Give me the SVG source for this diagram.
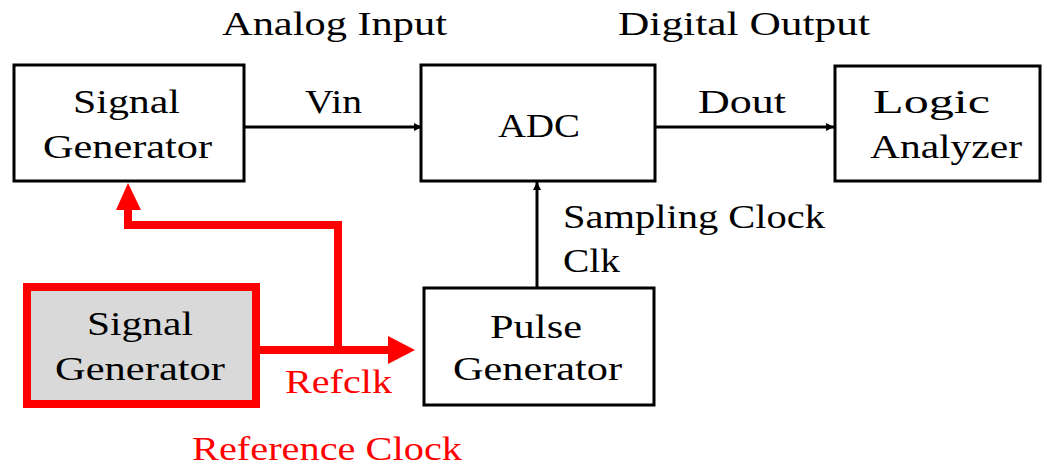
<svg xmlns="http://www.w3.org/2000/svg" width="1055" height="466" viewBox="0 0 1055 466">
<style>
text{font-family:"Liberation Serif","DejaVu Serif",serif;font-size:34px;fill:#000}
.red{fill:#ff0000}
.box{fill:#fff;stroke:#000;stroke-width:3}
.rbox{fill:#d9d9d9;stroke:#ff0000;stroke-width:8}
.blk{fill:none;stroke:#000;stroke-width:3}
.rl{fill:none;stroke:#ff0000;stroke-width:8}
</style>
<defs>
<marker id="ah" markerWidth="10" markerHeight="10" refX="8" refY="5" orient="auto" markerUnits="userSpaceOnUse">
<path d="M0,1 L8,5 L0,9 Z" fill="#000"/>
</marker>
</defs>
<rect width="1055" height="466" fill="#fff"/>
<text x="222" y="35" textLength="225" lengthAdjust="spacingAndGlyphs">Analog Input</text>
<text x="618" y="35" textLength="252" lengthAdjust="spacingAndGlyphs">Digital Output</text>
<text x="192" y="460" class="red" textLength="270" lengthAdjust="spacingAndGlyphs">Reference Clock</text>
<g id="connectors">
<line x1="245" y1="127" x2="422" y2="127" class="blk" marker-end="url(#ah)"/>
<line x1="655" y1="127" x2="834" y2="127" class="blk" marker-end="url(#ah)"/>
<line x1="537" y1="287" x2="537" y2="182" class="blk" marker-end="url(#ah)"/>
<polyline points="260,350 390,350" class="rl"/>
<path d="M388,336 L415,350 L388,364 Z" fill="#ff0000"/>
<polyline points="338,350 338,225 128,225 128,210" class="rl"/>
<path d="M116,210 L128,183 L141,210 Z" fill="#ff0000"/>
<text x="305" y="113" textLength="57" lengthAdjust="spacingAndGlyphs">Vin</text>
<text x="698" y="113" textLength="88" lengthAdjust="spacingAndGlyphs">Dout</text>
<text x="563" y="228" textLength="262" lengthAdjust="spacingAndGlyphs">Sampling Clock</text>
<text x="563" y="272" textLength="57" lengthAdjust="spacingAndGlyphs">Clk</text>
<text x="285" y="393" class="red" textLength="107" lengthAdjust="spacingAndGlyphs">Refclk</text>
</g>
<g id="sg1">
<rect x="14" y="65" width="230" height="116" class="box"/>
<text x="73" y="113" textLength="107" lengthAdjust="spacingAndGlyphs">Signal</text>
<text x="43" y="158" textLength="169" lengthAdjust="spacingAndGlyphs">Generator</text>
</g>
<g id="adc">
<rect x="421" y="65" width="234" height="116" class="box"/>
<text x="498" y="137" textLength="82" lengthAdjust="spacingAndGlyphs">ADC</text>
</g>
<g id="la">
<rect x="835" y="66" width="205" height="115" class="box"/>
<text x="873" y="113" textLength="117" lengthAdjust="spacingAndGlyphs">Logic</text>
<text x="870" y="158" textLength="152" lengthAdjust="spacingAndGlyphs">Analyzer</text>
</g>
<g id="pg">
<rect x="424" y="288" width="230" height="117" class="box"/>
<text x="490" y="338" textLength="92" lengthAdjust="spacingAndGlyphs">Pulse</text>
<text x="453" y="380" textLength="169" lengthAdjust="spacingAndGlyphs">Generator</text>
</g>
<g id="sg2">
<rect x="27" y="287" width="229" height="117" class="rbox"/>
<text x="87" y="335" textLength="106" lengthAdjust="spacingAndGlyphs">Signal</text>
<text x="55" y="380" textLength="170" lengthAdjust="spacingAndGlyphs">Generator</text>
</g>
</svg>
